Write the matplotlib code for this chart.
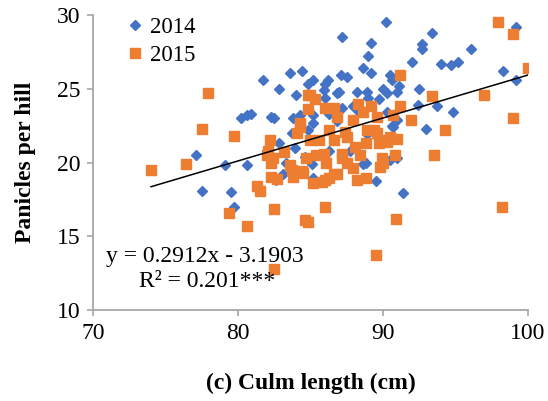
import matplotlib
matplotlib.use("Agg")
import matplotlib.pyplot as plt
import numpy as np

plt.rcParams['font.family'] = ['Liberation Serif', 'DejaVu Serif']

# 2014 season: culm length (cm) vs panicles per hill
culm_2014 = [81.7, 82.8, 83.6, 84.4, 84.0, 84.8, 80.2, 80.6, 80.9, 82.3,
             82.5, 83.8, 84.3, 83.7, 83.9, 77.1, 80.6, 79.1, 83.3, 77.5,
             79.5, 79.7, 82.6, 83.1, 90.2, 87.2, 89.2, 89.0, 93.4, 92.7,
             92.7, 96.1, 99.2, 92.0, 94.0, 94.7, 95.2, 88.6, 89.2, 98.3,
             99.2, 85.2, 86.2, 87.1, 87.5, 90.5, 90.6, 91.1, 92.5, 90.0,
             90.3, 91.0, 88.9, 88.2, 87.0, 85.9, 86.0, 86.8, 89.7, 89.0,
             92.4, 93.7, 94.8, 87.2, 87.9, 85.2, 90.3, 93.0, 90.7, 87.7,
             88.8, 84.6, 86.3, 90.5, 88.6, 89.5, 91.4, 85.1, 85.2, 85.2,
             84.8, 82.8, 88.9, 90.6, 91.0, 86.3, 88.3, 86.0, 91.0, 86.8]
panicle_2014 = [25.6, 25.0, 26.1, 26.2, 24.6, 25.3, 23.0, 23.2, 23.3, 23.1,
                23.0, 23.0, 23.2, 22.0, 21.0, 20.5, 19.8, 19.8, 20.0, 18.1,
                18.0, 17.0, 18.8, 19.2, 29.5, 28.5, 28.1, 27.2, 28.8, 28.0,
                27.7, 27.7, 29.2, 26.8, 26.7, 26.6, 26.8, 26.4, 26.1, 26.2,
                25.6, 25.6, 25.6, 25.9, 25.8, 25.9, 25.6, 25.2, 25.0, 25.0,
                24.7, 24.8, 24.8, 24.8, 24.8, 24.9, 24.4, 24.7, 24.3, 24.4,
                23.9, 23.8, 23.4, 23.7, 23.8, 23.2, 23.4, 22.3, 22.4, 20.8,
                20.0, 20.4, 20.8, 20.2, 19.9, 18.75, 17.9, 19.9, 18.95, 22.7,
                22.2, 21.3, 21.9, 22.5, 22.9, 23.3, 23.5, 25.3, 20.3, 22.8]

# 2015 season
culm_2015 = [74.0, 76.4, 77.9, 77.5, 79.7, 79.4, 80.6, 81.3, 81.5, 82.5,
             82.5, 82.2, 82.1, 82.3, 82.4, 82.3, 82.7, 83.2, 83.6, 83.7,
             83.8, 84.4, 84.5, 84.6, 84.8, 84.8, 84.8, 84.3, 84.1, 84.3,
             85.0, 85.3, 86.0, 90.9, 89.5, 98.2, 85.2, 85.8, 86.3, 86.8,
             88.2, 88.8, 87.9, 87.5, 89.8, 90.0, 93.5, 97.9, 99.0, 100.0,
             91.2, 93.4, 97.0, 99.0, 94.3, 91.9, 91.2, 86.0, 86.6, 86.8,
             88.3, 89.2, 89.6, 87.9, 88.6, 90.7, 85.0, 86.3, 86.6, 87.4,
             87.5, 88.9, 89.4, 89.9, 90.5, 91.0, 88.1, 88.8, 89.7, 90.3,
             85.4, 87.2, 88.4, 89.9, 90.8, 86.1, 87.2, 89.6, 85.9, 86.6,
             86.0, 85.6, 84.7, 82.0]
panicle_2015 = [19.5, 19.9, 24.7, 22.3, 21.8, 16.6, 15.7, 18.4, 18.1, 16.85,
                12.8, 21.5, 20.8, 20.0, 20.3, 19.0, 18.9, 20.7, 19.8, 19.5,
                19.0, 19.4, 19.3, 16.1, 16.0, 24.6, 23.6, 22.4, 22.0, 22.7,
                24.6, 24.3, 17.0, 16.2, 13.7, 17.0, 18.6, 18.7, 18.95, 19.2,
                18.8, 18.95, 19.6, 20.0, 19.7, 20.0, 20.5, 29.5, 28.7, 26.4,
                25.9, 24.5, 24.6, 23.0, 22.2, 22.9, 23.8, 23.7, 23.7, 23.1,
                24.0, 23.8, 23.1, 22.9, 23.4, 23.2, 21.5, 22.2, 21.5, 22.1,
                21.7, 22.2, 22.2, 21.5, 21.7, 21.6, 21.05, 21.3, 21.3, 21.4,
                20.5, 20.3, 20.5, 20.3, 20.5, 20.0, 20.6, 22.0, 20.6, 19.2,
                18.8, 21.5, 20.3, 20.5]

# fitted trend line (both years pooled)
slope = 0.2912
intercept = -3.1903

fig = plt.figure(figsize=(5.48, 4.01), dpi=100)
ax = fig.add_axes([0.1697, 0.2269, 0.7938, 0.7357])

ax.plot(culm_2014, panicle_2014, linestyle='none', marker='D', ms=5.0,
        color='#4472C4', mec='#4472C4', label='2014')
ax.plot(culm_2015, panicle_2015, linestyle='none', marker='s', ms=7.4,
        color='#ED7D31', mec='#ED7D31', label='2015')

all_x = np.array(culm_2014 + culm_2015)
fit_x = np.array([all_x.min(), all_x.max()])
ax.plot(fit_x, slope * fit_x + intercept, color='black', lw=1.1)

ax.set_xlim(70, 100)
ax.set_ylim(10, 30)
ax.set_xticks([70, 80, 90, 100])
ax.set_yticks([10, 15, 20, 25, 30])
ax.tick_params(axis='both', labelsize=17, color='#A6A6A6', length=4,
               width=1.2, pad=5)

for side in ['top', 'right']:
    ax.spines[side].set_visible(False)
for side in ['left', 'bottom']:
    ax.spines[side].set_color('#A6A6A6')
    ax.spines[side].set_linewidth(1.3)

ax.set_xlabel('(c) Culm length (cm)', fontsize=17, fontweight='bold', labelpad=21)
ax.set_ylabel('Panicles per hill', fontsize=17, fontweight='bold', labelpad=15)

ax.text(0.257, 0.183, 'y = 0.2912x - 3.1903', fontsize=17, ha='center',
        va='center', transform=ax.transAxes)
ax.text(0.262, 0.098, 'R² = 0.201***', fontsize=17, ha='center',
        va='center', transform=ax.transAxes)

ax.legend(loc='upper left', bbox_to_anchor=(0.045, 1.025), frameon=False,
          fontsize=16.5, handletextpad=0.05, handlelength=1.2,
          labelspacing=0.3, borderaxespad=0)

fig.savefig('out.png', dpi=100)
